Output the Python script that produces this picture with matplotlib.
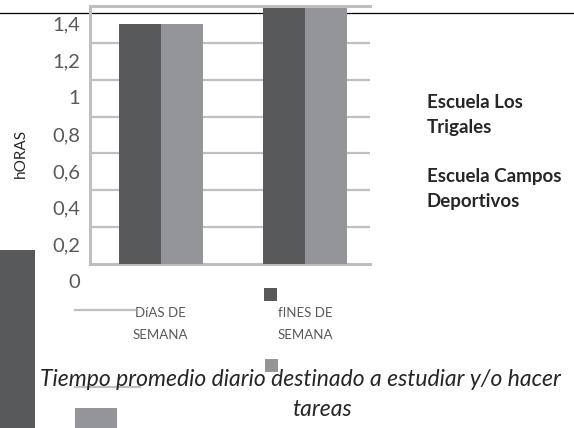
import matplotlib
matplotlib.use("Agg")
import matplotlib.pyplot as plt
from matplotlib.patches import Rectangle
from matplotlib.lines import Line2D

# data
categorias = [("DíAS DE", "SEMANA"), ("fINES DE", "SEMANA")]
los_trigales = [1.30, 1.39]
campos_deportivos = [1.30, 1.39]
yticks = [0, 0.2, 0.4, 0.6, 0.8, 1.0, 1.2, 1.4]
ytick_labels = ["0", "0,2", "0,4", "0,6", "0,8", "1", "1,2", "1,4"]
series_names = [("Escuela Los", "Trigales"), ("Escuela Campos", "Deportivos")]
titulo = ["Tiempo promedio diario destinado a estudiar y/o hacer", "tareas"]

oscuro = "#58595b"
claro = "#939598"
gris = "#bfbfbf"
texto = "#595959"

plt.rcParams["font.family"] = ["Lato", "DejaVu Sans"]

W, H = 574, 428
fig = plt.figure(figsize=(W / 100, H / 100), dpi=100)


def fx(x):
    return x / W


def fy(y):
    return 1 - y / H


def rect(x0, y0, x1, y1, color):
    fig.add_artist(Rectangle((fx(x0), fy(y1)), fx(x1) - fx(x0), fy(y0) - fy(y1),
                             transform=fig.transFigure, color=color, lw=0))


def hline(x0, x1, y, color, lw, z=1):
    fig.add_artist(Line2D([fx(x0), fx(x1)], [fy(y), fy(y)], transform=fig.transFigure,
                          color=color, lw=lw, zorder=z))


# page line behind the chart
hline(0, W, 13, "black", 0.9, z=-1)

ax = fig.add_axes([fx(90), fy(264), fx(370) - fx(90), fy(6) - fy(264)])
ax.patch.set_alpha(0)
w = 0.29
pos = list(range(len(categorias)))
ax.bar([p - w / 2 for p in pos], los_trigales, w, color=oscuro, zorder=3)
ax.bar([p + w / 2 for p in pos], campos_deportivos, w, color=claro, zorder=3)
ax.set_xlim(-0.49, 1.45)
ax.set_ylim(0, 1.4)
for v in yticks[1:-1]:
    ax.axhline(v, color=gris, lw=1.6, zorder=1)
for s in ["left", "top", "bottom"]:
    ax.spines[s].set_color(gris)
    ax.spines[s].set_linewidth(2.2)
ax.spines["right"].set_visible(False)
ax.set_xticks([])
ax.set_yticks([])

# y labels sit half a step below their gridlines
for v, lab in zip(yticks, ytick_labels):
    ax.text(-0.036, v - 0.103, lab, transform=ax.get_yaxis_transform(),
            ha="right", va="center", fontsize=14.5, color=texto)

for p, (l1, l2) in zip(pos, categorias):
    ax.text(p, -0.265, l1, transform=ax.transData, ha="center", va="center",
            fontsize=9.5, color=texto, clip_on=False)
    ax.text(p, -0.385, l2, transform=ax.transData, ha="center", va="center",
            fontsize=9.5, color=texto, clip_on=False)

fig.text(fx(21), fy(153), "hORAS", rotation=90, ha="center", va="center",
         fontsize=11, color="#262626")

# legend text
for (a, b), y in zip(series_names, [103, 177]):
    fig.text(fx(427), fy(y), a, ha="left", va="center", fontsize=13.5,
             fontweight="bold", color="#262626")
    fig.text(fx(427), fy(y + 25), b, ha="left", va="center", fontsize=13.5,
             fontweight="bold", color="#262626")

# title
fig.text(fx(300), fy(380), titulo[0], ha="center", va="center", fontsize=16.5,
         style="italic", color="#262626")
fig.text(fx(322), fy(410), titulo[1], ha="center", va="center", fontsize=16.5,
         style="italic", color="#262626")

# stray legend marks
rect(0, 250, 35, H, oscuro)
rect(264, 288, 277, 301, oscuro)
rect(265, 359, 278, 372, claro)
rect(75, 408, 117, H, claro)
hline(75, 135, 310, gris, 1.6)
hline(75, 140, 387, gris, 1.6)

fig.savefig("out.png", dpi=100)
